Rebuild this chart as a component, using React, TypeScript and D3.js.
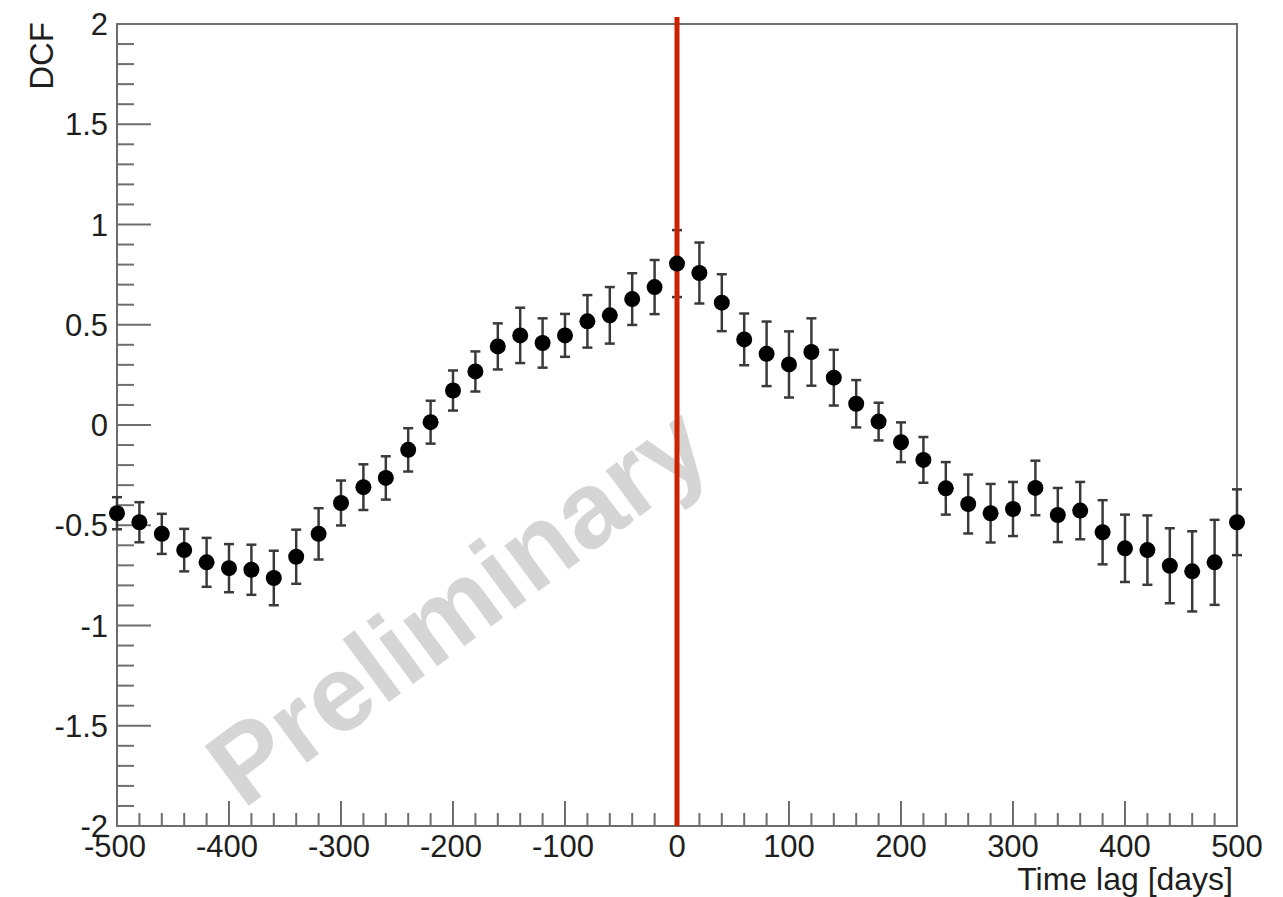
import * as d3 from "d3";
import React from "react";

// time lag grid (days)
const lags = [
  -500, -480, -460, -440, -420, -400, -380, -360, -340, -320, -300, -280, -260,
  -240, -220, -200, -180, -160, -140, -120, -100, -80, -60, -40, -20, 0, 20, 40,
  60, 80, 100, 120, 140, 160, 180, 200, 220, 240, 260, 280, 300, 320, 340, 360,
  380, 400, 420, 440, 460, 480, 500,
];

const dcf = [
  -0.44, -0.485, -0.543, -0.624, -0.685, -0.714, -0.722, -0.763, -0.657, -0.543,
  -0.389, -0.31, -0.264, -0.124, 0.014, 0.172, 0.267, 0.392, 0.447, 0.409, 0.447,
  0.517, 0.547, 0.628, 0.688, 0.805, 0.758, 0.61, 0.427, 0.355, 0.302, 0.364,
  0.236, 0.106, 0.017, -0.086, -0.174, -0.316, -0.394, -0.44, -0.419, -0.314,
  -0.449, -0.427, -0.535, -0.615, -0.624, -0.702, -0.73, -0.685, -0.485,
];

const dcfErr = [
  0.08, 0.1, 0.1, 0.106, 0.122, 0.12, 0.125, 0.136, 0.135, 0.128, 0.112, 0.114,
  0.108, 0.108, 0.107, 0.1, 0.1, 0.115, 0.138, 0.123, 0.107, 0.131, 0.141, 0.129,
  0.135, 0.167, 0.152, 0.142, 0.129, 0.161, 0.165, 0.168, 0.139, 0.118, 0.094,
  0.099, 0.114, 0.131, 0.147, 0.146, 0.135, 0.136, 0.135, 0.143, 0.16, 0.168,
  0.173, 0.187, 0.2, 0.212, 0.164,
];

const xTickLabels = ["-500", "-400", "-300", "-200", "-100", "0", "100", "200", "300", "400", "500"];
const yTickLabels = ["-2", "-1.5", "-1", "-0.5", "0", "0.5", "1", "1.5", "2"];

const W = 1283;
const H = 897;
const margin = { top: 24, right: 46, bottom: 72, left: 117 };
const font = "'Liberation Sans', Arial, Helvetica, sans-serif";
const axisColor = "#6e6e6e";

export default function App() {
  const x = d3.scaleLinear().domain([-500, 500]).range([margin.left, W - margin.right]);
  const y = d3.scaleLinear().domain([-2, 2]).range([H - margin.bottom + 1, margin.top]);
  const x0 = margin.left;
  const x1 = W - margin.right;
  const yTop = margin.top;
  const yBot = H - margin.bottom + 1;

  const xMinor = d3.range(-500, 501, 20);
  const yMinor = d3.range(-20, 21, 1).map((v) => v / 10);

  return (
    <svg
      width={W}
      height={H}
      style={{ position: "absolute", left: 0, top: 0, background: "#fff" }}
      fontFamily={font}
    >
      <rect width={W} height={H} fill="#fff" />

      {/* watermark */}
      <text
        transform={`translate(243,810) rotate(-36.5)`}
        fontSize={108}
        fontWeight="bold"
        fill="#d5d5d5"
      >
        Preliminary
      </text>

      {/* frame */}
      <rect
        x={x0}
        y={yTop}
        width={x1 - x0}
        height={yBot - yTop}
        fill="none"
        stroke={axisColor}
        strokeWidth={2}
      />

      {/* x ticks */}
      {xMinor.map((v) => {
        const major = v % 100 === 0;
        return (
          <line
            key={"xt" + v}
            x1={x(v)}
            x2={x(v)}
            y1={yBot}
            y2={yBot - (major ? 25 : 13)}
            stroke={axisColor}
            strokeWidth={2}
          />
        );
      })}
      {/* y ticks */}
      {yMinor.map((v, i) => {
        const major = i % 5 === 0;
        return (
          <line
            key={"yt" + i}
            x1={x0}
            x2={x0 + (major ? 34 : 17)}
            y1={y(v)}
            y2={y(v)}
            stroke={axisColor}
            strokeWidth={2}
          />
        );
      })}

      {/* tick labels */}
      {xTickLabels.map((t) => (
        <text
          key={"xl" + t}
          x={x(+t) + (+t < 0 ? -2 : 0)}
          y={857}
          fontSize={31}
          textAnchor="middle"
          fill="#1e1e1e"
        >
          {t}
        </text>
      ))}
      {yTickLabels.map((t) => (
        <text
          key={"yl" + t}
          x={108}
          y={y(+t)}
          dy="0.36em"
          fontSize={31}
          textAnchor="end"
          fill="#1e1e1e"
        >
          {t}
        </text>
      ))}

      {/* axis titles */}
      <text x={1233} y={890} fontSize={32} textAnchor="end" fill="#1e1e1e">
        Time lag [days]
      </text>
      <text
        transform={`translate(53,22) rotate(-90)`}
        fontSize={33}
        textAnchor="end"
        fill="#1e1e1e"
      >
        DCF
      </text>

      {/* error bars */}
      {lags.map((l, i) => {
        const cx = x(l);
        const lo = y(dcf[i] - dcfErr[i]);
        const hi = y(dcf[i] + dcfErr[i]);
        return (
          <g key={"e" + l} stroke="#3a3a3a" strokeWidth={2.5}>
            <line x1={cx} x2={cx} y1={lo} y2={hi} />
            <line x1={cx - 5} x2={cx + 5} y1={lo} y2={lo} />
            <line x1={cx - 5} x2={cx + 5} y1={hi} y2={hi} />
          </g>
        );
      })}

      {/* red zero-lag line */}
      <line x1={x(0)} x2={x(0)} y1={17} y2={yBot} stroke="#cc2200" strokeWidth={5} />

      {/* markers */}
      {lags.map((l, i) => (
        <circle key={"m" + l} cx={x(l)} cy={y(dcf[i])} r={8} fill="#000" />
      ))}
    </svg>
  );
}
